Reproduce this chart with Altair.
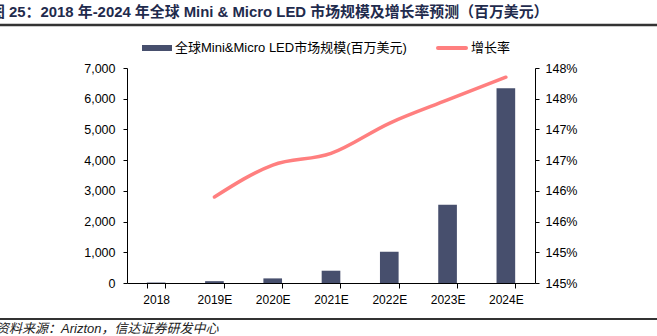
import altair as alt
import pandas as pd

years = ["2018", "2019E", "2020E", "2021E", "2022E", "2023E", "2024E"]
market = [15, 60, 150, 400, 1020, 2550, 6340]
growth = [None, 145.90, 146.42, 146.61, 147.10, 147.48, 147.85]

bar_name = "全球Mini&Micro LED市场规模(百万美元)"
line_name = "增长率"
title_text = "图 25：2018 年-2024 年全球 Mini & Micro LED 市场规模及增长率预测（百万美元）"
source_text = "资料来源：Arizton，信达证券研发中心"

BAR = "#474F6D"
LINE = "#FF7F7F"
FONT = "Liberation Sans, Noto Sans CJK SC"

df = pd.DataFrame({"year": years, "market": market, "growth": growth})

W, H = 408, 215

x_enc = alt.X("year:N", sort=years, title=None,
              scale=alt.Scale(paddingInner=0.68, paddingOuter=0.34),
              axis=alt.Axis(labelAngle=0, tickBand="extent", domainColor="black",
                            tickColor="black", tickSize=5, labelFont=FONT,
                            labelFontSize=12, labelColor="black", labelPadding=6))

bars = alt.Chart(df).mark_bar(color=BAR).encode(
    x=x_enc,
    y=alt.Y("market:Q", title=None,
            scale=alt.Scale(domain=[0, 7000], nice=False),
            axis=alt.Axis(values=list(range(0, 7001, 1000)), format=",d", grid=False,
                          domainColor="black", tickColor="black", tickSize=4,
                          labelFont=FONT, labelFontSize=12.5, labelColor="black",
                          labelPadding=8)),
)

line = alt.Chart(df).transform_filter("datum.growth != null").mark_line(
    color=LINE, strokeWidth=3.5, interpolate="monotone", strokeCap="round").encode(
    x=alt.X("year:N", sort=years),
    y=alt.Y("growth:Q", title=None,
            scale=alt.Scale(domain=[144.5, 148.0], nice=False, zero=False),
            axis=alt.Axis(orient="right", values=[144.5 + 0.5 * i for i in range(8)],
                          labelExpr="format(round(datum.value), 'd') + '%'",
                          grid=False, domainColor="black", tickColor="black", tickSize=4,
                          labelFont=FONT, labelFontSize=12.5, labelColor="black",
                          labelPadding=6)),
)

# decorations: title, rules, legend, source
one = pd.DataFrame({"k": [0]})
title = alt.Chart(one).mark_text(align="left", baseline="alphabetic", fontSize=14.9,
                                 fontWeight="bold", color="#1F2B4D",
                                 font="Liberation Sans, Noto Sans CJK SC").encode(
    x=alt.value(-137), y=alt.value(-51), text=alt.value(title_text))
top_rule = alt.Chart(one).mark_rule(color="#333333", strokeWidth=2.5).encode(
    x=alt.value(-127), x2=alt.value(530), y=alt.value(-43))
bot_rule = alt.Chart(one).mark_rule(color="#333333", strokeWidth=2).encode(
    x=alt.value(-127), x2=alt.value(530), y=alt.value(251))
source = alt.Chart(one).mark_text(align="left", baseline="alphabetic", fontSize=13,
                                  fontStyle="italic", color="#222222",
                                  font="Liberation Sans, Noto Sans CJK SC").encode(
    x=alt.value(-131), y=alt.value(265), text=alt.value(source_text))

leg_bar = alt.Chart(one).mark_rect(color=BAR).encode(
    x=alt.value(15), x2=alt.value(45), y=alt.value(-23), y2=alt.value(-17))
leg_bar_t = alt.Chart(one).mark_text(align="left", baseline="middle", fontSize=13,
                                     color="black", font=FONT).encode(
    x=alt.value(48), y=alt.value(-20), text=alt.value(bar_name))
leg_line = alt.Chart(one).mark_rule(color=LINE, strokeWidth=4, strokeCap="round").encode(
    x=alt.value(311), x2=alt.value(339), y=alt.value(-20))
leg_line_t = alt.Chart(one).mark_text(align="left", baseline="middle", fontSize=13,
                                      color="black", font=FONT).encode(
    x=alt.value(344), y=alt.value(-20), text=alt.value(line_name))

main = alt.layer(bars, line).resolve_scale(y="independent")

chart = alt.layer(main, title, top_rule, bot_rule, source,
                  leg_bar, leg_bar_t, leg_line, leg_line_t).properties(
    width=W, height=H,
    autosize=alt.AutoSizeParams(type="none"),
    padding={"left": 127, "top": 68, "right": 122, "bottom": 53},
    background="white",
).configure_view(stroke=None)

chart.save("out.html", embed_options={"renderer": "svg", "actions": False})
